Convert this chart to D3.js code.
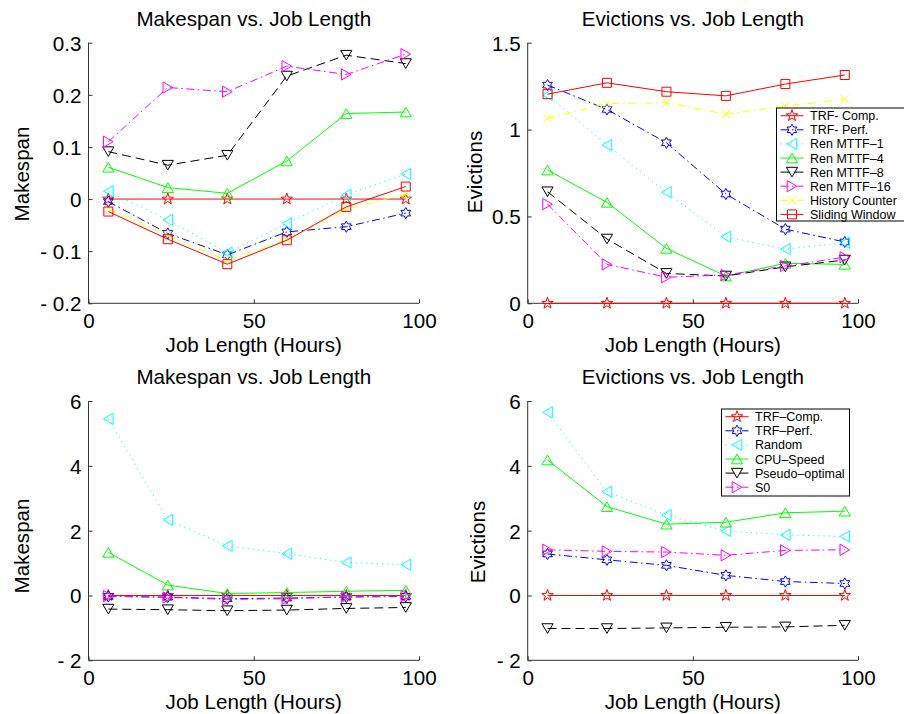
<!DOCTYPE html>
<html>
<head>
<meta charset="utf-8">
<script src="https://cdn.jsdelivr.net/npm/d3@7"></script>
<style>
  html, body { margin: 0; padding: 0; background: #fff; }
  svg { display: block; }
  text { font-family: "Liberation Sans", Arial, Helvetica, sans-serif; fill: #000; }
</style>
</head>
<body>
<svg id="chart" width="904" height="714"></svg>
<script>
// Job lengths (hours) shared by every panel
const jobHours = [6, 24, 42, 60, 78, 96];

// Top-left: makespan, renewal-based predictors
const mkTrfComp   = [0, 0, 0, 0, 0, 0];
const mkTrfPerf   = [-0.005, -0.066, -0.107, -0.063, -0.053, -0.027];
const mkRenMttf1  = [0.015, -0.040, -0.103, -0.047, 0.008, 0.048];
const mkRenMttf4  = [0.061, 0.022, 0.011, 0.073, 0.164, 0.167];
const mkRenMttf8  = [0.091, 0.065, 0.084, 0.236, 0.276, 0.260];
const mkRenMttf16 = [0.110, 0.214, 0.206, 0.255, 0.239, 0.278];
const mkHistory   = [-0.018, -0.070, -0.118, -0.078, -0.020, 0.010];
const mkSliding   = [-0.024, -0.077, -0.125, -0.079, -0.015, 0.024];

// Top-right: evictions, renewal-based predictors
const evTrfComp   = [0, 0, 0, 0, 0, 0];
const evTrfPerf   = [1.256, 1.116, 0.924, 0.629, 0.427, 0.353];
const evRenMttf1  = [1.198, 0.911, 0.639, 0.383, 0.312, 0.349];
const evRenMttf4  = [0.767, 0.581, 0.316, 0.157, 0.230, 0.224];
const evRenMttf8  = [0.642, 0.370, 0.172, 0.157, 0.210, 0.249];
const evRenMttf16 = [0.571, 0.224, 0.150, 0.163, 0.215, 0.265];
const evHistory   = [1.064, 1.150, 1.154, 1.089, 1.135, 1.174];
const evSliding   = [1.204, 1.269, 1.218, 1.194, 1.262, 1.314];

// Bottom-left: makespan, scheduling heuristics
const hmTrfComp = [0, 0, 0, 0, 0, 0];
const hmTrfPerf = [-0.03, -0.05, -0.10, -0.08, -0.05, -0.03];
const hmRandom  = [5.45, 2.33, 1.53, 1.29, 1.02, 0.95];
const hmCpu     = [1.33, 0.32, 0.06, 0.09, 0.13, 0.16];
const hmPseudo  = [-0.42, -0.44, -0.47, -0.45, -0.40, -0.37];
const hmS0      = [-0.02, -0.06, -0.12, -0.10, -0.04, -0.02];

// Bottom-right: evictions, scheduling heuristics
const heTrfComp = [0, 0, 0, 0, 0, 0];
const heTrfPerf = [1.28, 1.10, 0.93, 0.62, 0.43, 0.37];
const heRandom  = [5.65, 3.20, 2.48, 1.99, 1.87, 1.82];
const heCpu     = [4.18, 2.74, 2.20, 2.26, 2.55, 2.60];
const hePseudo  = [-1.02, -1.02, -1.00, -0.98, -0.97, -0.92];
const heS0      = [1.41, 1.36, 1.34, 1.24, 1.39, 1.41];

// Legend names
const renewalNames = ["TRF- Comp.", "TRF- Perf.", "Ren MTTF\u20131", "Ren MTTF\u20134",
                      "Ren MTTF\u20138", "Ren MTTF\u201316", "History Counter", "Sliding Window"];
const heuristicNames = ["TRF\u2013Comp.", "TRF\u2013Perf.", "Random", "CPU\u2013Speed",
                        "Pseudo\u2013optimal", "S0"];

// Tick values
const xTicks = [0, 50, 100];
const mkTicks = [-0.2, -0.1, 0, 0.1, 0.2, 0.3];
const evTicks = [0, 0.5, 1, 1.5];
const hTicks = [-2, 0, 2, 4, 6];

// Line styles (colour, dash, marker)
const DASH = { solid: null, dashdot: "8,3.5,1.5,3.5", dotted: "1.2,4", dashed: "9,5" };
const renewalStyles = [
  { color: "#ff0000", dash: DASH.solid,   marker: "pentagram" },
  { color: "#0000ff", dash: DASH.dashdot, marker: "hexagram" },
  { color: "#00ffff", dash: DASH.dotted,  marker: "triLeft" },
  { color: "#00ff00", dash: DASH.solid,   marker: "triUp" },
  { color: "#000000", dash: DASH.dashed,  marker: "triDown" },
  { color: "#ff00ff", dash: DASH.dashdot, marker: "triRight" },
  { color: "#ffff00", dash: DASH.dashdot, marker: "cross" },
  { color: "#ff0000", dash: DASH.solid,   marker: "square" }
];
const heuristicStyles = renewalStyles.slice(0, 6);

const svg = d3.select("#chart");
const FONT = 20.6;

// Outline marker geometry
function starPath(points, rOuter, rInner) {
  const pts = [];
  for (let i = 0; i < points * 2; i++) {
    const r = i % 2 === 0 ? rOuter : rInner;
    const a = -Math.PI / 2 + i * Math.PI / points;
    pts.push([r * Math.cos(a), r * Math.sin(a)]);
  }
  return "M" + pts.map(p => p[0].toFixed(2) + "," + p[1].toFixed(2)).join("L") + "Z";
}
function markerPath(type) {
  const w = 5.6, h = 4.8;
  switch (type) {
    case "pentagram": return starPath(5, 6, 2.4);
    case "hexagram":  return starPath(6, 5.6, 3.2);
    case "triUp":     return `M0,${-h}L${w},${h}L${-w},${h}Z`;
    case "triDown":   return `M0,${h}L${w},${-h}L${-w},${-h}Z`;
    case "triLeft":   return `M${-h},0L${h},${-w}L${h},${w}Z`;
    case "triRight":  return `M${h},0L${-h},${-w}L${-h},${w}Z`;
    case "cross":     return "M-4,-4L4,4M-4,4L4,-4";
    case "square":    return "M-4.5,-4.5H4.5V4.5H-4.5Z";
  }
}

function fmtTick(v) {
  const s = String(+v.toFixed(2));
  return v < 0 ? "- " + s.replace("-", "") : s;
}

function panel(cfg) {
  const x = d3.scaleLinear().domain([0, 100]).range([cfg.left, cfg.right]);
  const y = d3.scaleLinear().domain(cfg.yDomain).range([cfg.bottom, cfg.top]);
  const g = svg.append("g");

  // Axes (left and bottom only, inward ticks)
  const yAxis = d3.axisLeft(y).tickValues(cfg.yTicks).tickSize(-4).tickPadding(7).tickFormat(fmtTick);
  const xAxis = d3.axisBottom(x).tickValues(xTicks).tickSize(-4).tickPadding(10).tickFormat(d3.format("d"));

  const ga = g.append("g").attr("transform", `translate(${cfg.left},0)`).call(yAxis);
  const gx = g.append("g").attr("transform", `translate(0,${cfg.bottom})`).call(xAxis);
  [ga, gx].forEach(a => {
    a.select(".domain").attr("stroke", "#333").attr("stroke-width", 1).attr("d",
      a === ga ? `M0,${cfg.top}V${cfg.bottom}` : `M${cfg.left},0H${cfg.right}`);
    a.selectAll(".tick line").attr("stroke", "#333");
    a.selectAll(".tick text").attr("font-size", FONT).attr("fill", "#000")
      .attr("font-family", "'Liberation Sans', Arial, Helvetica, sans-serif");
  });
  ga.selectAll(".tick text").attr("dy", "0.36em");
  gx.selectAll(".tick text").attr("dy", "0.72em");

  // Series
  const line = d3.line().x((d, i) => x(jobHours[i])).y(d => y(d));
  cfg.series.forEach((vals, k) => {
    const st = cfg.styles[k];
    g.append("path").attr("d", line(vals)).attr("fill", "none")
      .attr("stroke", st.color).attr("stroke-width", 1)
      .attr("stroke-dasharray", st.dash);
    g.selectAll(null).data(vals).enter().append("path")
      .attr("d", markerPath(st.marker))
      .attr("transform", (d, i) => `translate(${x(jobHours[i])},${y(d)})`)
      .attr("fill", "none").attr("stroke", st.color).attr("stroke-width", 1);
  });

  // Title and labels
  const cx = (cfg.left + cfg.right) / 2;
  g.append("text").attr("x", cx).attr("y", cfg.titleY).attr("text-anchor", "middle")
    .attr("font-size", FONT).text(cfg.title);
  g.append("text").attr("x", cx).attr("y", cfg.bottom + 49).attr("text-anchor", "middle")
    .attr("font-size", FONT).text("Job Length (Hours)");
  g.append("text").attr("transform", `translate(${cfg.yLabelX},${cfg.yLabelY}) rotate(-90)`)
    .attr("text-anchor", "middle").attr("font-size", FONT).text(cfg.yLabel);

  // Legend
  if (cfg.legend) {
    const L = cfg.legend;
    const lg = svg.append("g");
    lg.append("rect").attr("x", L.x).attr("y", L.y).attr("width", L.w).attr("height", L.h)
      .attr("fill", "#fff").attr("stroke", "#000").attr("stroke-width", 1);
    L.names.forEach((name, k) => {
      const st = cfg.styles[k];
      const ry = L.y + 7.7 + k * 14.1;
      lg.append("line").attr("x1", L.x + 4).attr("x2", L.x + 27).attr("y1", ry).attr("y2", ry)
        .attr("stroke", st.color).attr("stroke-width", 1).attr("stroke-dasharray", st.dash);
      lg.append("path").attr("d", markerPath(st.marker))
        .attr("transform", `translate(${L.x + 15.5},${ry})`)
        .attr("fill", "none").attr("stroke", st.color).attr("stroke-width", 1);
      lg.append("text").attr("x", L.x + 33.5).attr("y", ry).attr("dy", "0.36em")
        .attr("font-size", 12.5).text(name);
    });
  }
}

panel({
  left: 88.5, right: 419, top: 42.7, bottom: 303.3,
  yDomain: [-0.2, 0.3], yTicks: mkTicks,
  series: [mkTrfComp, mkTrfPerf, mkRenMttf1, mkRenMttf4, mkRenMttf8, mkRenMttf16, mkHistory, mkSliding],
  styles: renewalStyles,
  title: "Makespan vs. Job Length", titleY: 26,
  yLabel: "Makespan", yLabelX: 29, yLabelY: 174
});

panel({
  left: 527.7, right: 858, top: 42.7, bottom: 303.3,
  yDomain: [0, 1.5], yTicks: evTicks,
  series: [evTrfComp, evTrfPerf, evRenMttf1, evRenMttf4, evRenMttf8, evRenMttf16, evHistory, evSliding],
  styles: renewalStyles,
  title: "Evictions vs. Job Length", titleY: 26,
  yLabel: "Evictions", yLabelX: 482, yLabelY: 172,
  legend: { x: 776.5, y: 108, w: 140, h: 113, names: renewalNames }
});

panel({
  left: 88.5, right: 419, top: 401, bottom: 660.3,
  yDomain: [-2, 6], yTicks: hTicks,
  series: [hmTrfComp, hmTrfPerf, hmRandom, hmCpu, hmPseudo, hmS0],
  styles: heuristicStyles,
  title: "Makespan vs. Job Length", titleY: 383.5,
  yLabel: "Makespan", yLabelX: 29, yLabelY: 546
});

panel({
  left: 527.7, right: 858, top: 401, bottom: 660.3,
  yDomain: [-2, 6], yTicks: hTicks,
  series: [heTrfComp, heTrfPerf, heRandom, heCpu, hePseudo, heS0],
  styles: heuristicStyles,
  title: "Evictions vs. Job Length", titleY: 383.5,
  yLabel: "Evictions", yLabelX: 485, yLabelY: 542,
  legend: { x: 721.5, y: 409, w: 128, h: 87, names: heuristicNames }
});
</script>
</body>
</html>
